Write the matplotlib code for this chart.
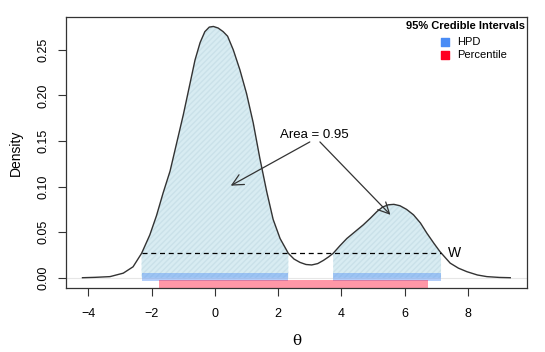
import matplotlib
matplotlib.use("Agg")
import matplotlib.pyplot as plt
import numpy as np

plt.rcParams['font.family'] = ['Liberation Sans', 'DejaVu Sans']

# density curve
theta = [-4.19, -3.80, -3.32, -2.90, -2.59, -2.32, -2.06, -1.85, -1.64, -1.42,
         -1.21, -1.00, -0.79, -0.63, -0.47, -0.32, -0.18, -0.05, 0.10, 0.26,
         0.40, 0.58, 0.79, 1.00, 1.21, 1.42, 1.64, 1.84, 2.06, 2.32,
         2.50, 2.69, 2.88, 3.06, 3.25, 3.43, 3.60, 3.74, 3.95, 4.17,
         4.43, 4.69, 4.92, 5.12, 5.30, 5.48, 5.66, 5.85, 6.06, 6.28,
         6.50, 6.70, 6.92, 7.12, 7.44, 7.70, 7.97, 8.30, 8.60, 9.00, 9.34]
density = [0.0000, 0.0004, 0.0012, 0.0050, 0.0120, 0.0268, 0.0470, 0.0680, 0.0930, 0.1170,
           0.1480, 0.1790, 0.2130, 0.2390, 0.2580, 0.2700, 0.2750, 0.2757, 0.2740, 0.2700,
           0.2650, 0.2500, 0.2280, 0.2020, 0.1700, 0.1310, 0.0940, 0.0640, 0.0430, 0.0268,
           0.0205, 0.0168, 0.0145, 0.0140, 0.0155, 0.0190, 0.0230, 0.0268, 0.0350, 0.0430,
           0.0505, 0.0580, 0.0655, 0.0725, 0.0775, 0.0800, 0.0805, 0.0790, 0.0750, 0.0690,
           0.0600, 0.0490, 0.0380, 0.0285, 0.0160, 0.0105, 0.0066, 0.0030, 0.0012, 0.0003, 0.0000]

# intervals
hpd_intervals = [(-2.32, 2.32), (3.74, 7.15)]
percentile_interval = (-1.77, 6.73)
w_level = 0.0268

theta = np.array(theta)
density = np.array(density)

fig = plt.figure(figsize=(5.45, 3.52), dpi=100)
ax = fig.add_axes([0.1206, 0.181, 0.8464, 0.771])

ax.axhline(0, color='#e6e6e6', lw=0.8, zorder=0)

# shaded HPD regions under the curve
for lo, hi in hpd_intervals:
    xs = np.concatenate([[lo], theta[(theta > lo) & (theta < hi)], [hi]])
    ys = np.interp(xs, theta, density)
    ax.fill_between(xs, 0, ys, facecolor='#d8ecf2', edgecolor='#cae1e9',
                    hatch='//////', linewidth=0, zorder=1)

ax.plot(theta, density, color='#333333', lw=1.0, zorder=3,
        solid_joinstyle='round')

# interval bars
for lo, hi in hpd_intervals:
    ax.fill_between([lo, hi], -0.0036, 0.0055, color='#4a8cf5', alpha=0.42,
                    linewidth=0, zorder=2)
ax.fill_between(list(percentile_interval), -0.0116, -0.0025, color='#ff1a3c',
                alpha=0.45, linewidth=0, zorder=2)

# W line
ax.plot([hpd_intervals[0][0], hpd_intervals[1][1]], [w_level, w_level],
        color='black', lw=0.9, ls=(0, (4, 3)), zorder=3)
ax.text(7.37, w_level, 'W', fontsize=10, va='center', ha='left')

# Area annotation
ax.text(3.15, 0.1505, 'Area = 0.95', fontsize=9.5, ha='center', va='bottom')
arrow = dict(arrowstyle='->,head_length=0.8,head_width=0.4', color='#333333',
             lw=0.9, shrinkA=0, shrinkB=0, mutation_scale=10)
ax.annotate('', xy=(0.5, 0.101), xytext=(3.0, 0.149), arrowprops=arrow)
ax.annotate('', xy=(5.55, 0.069), xytext=(3.32, 0.149), arrowprops=arrow)

# legend
ax.text(0.995, 0.965, '95% Credible Intervals', transform=ax.transAxes,
        fontsize=8, fontweight='bold', ha='right', va='center')
ax.scatter([0.823], [0.908], transform=ax.transAxes, marker='s', s=28,
           color='#4a8cf5', clip_on=False)
ax.text(0.848, 0.908, 'HPD', transform=ax.transAxes, fontsize=8, va='center')
ax.scatter([0.823], [0.858], transform=ax.transAxes, marker='s', s=28,
           color='#ff0022', clip_on=False)
ax.text(0.848, 0.858, 'Percentile', transform=ax.transAxes, fontsize=8, va='center')

ax.set_xlim(-4.72, 9.87)
ax.set_ylim(-0.0116, 0.2862)
ax.set_xticks([-4, -2, 0, 2, 4, 6, 8])
ax.set_yticks([0, 0.05, 0.10, 0.15, 0.20, 0.25])
ax.set_yticklabels(['0.00', '0.05', '0.10', '0.15', '0.20', '0.25'],
                   rotation=90, va='center')
ax.tick_params(axis='both', labelsize=9, length=6, width=0.8, color='#333333')
ax.tick_params(axis='x', pad=8)
ax.tick_params(axis='y', pad=6)
for s in ax.spines.values():
    s.set_linewidth(0.9)
    s.set_color('#333333')

ax.set_xlabel('θ', fontsize=11, family=['DejaVu Serif'], labelpad=10)
ax.set_ylabel('Density', fontsize=10, labelpad=10)

fig.savefig('out.png', dpi=100)
